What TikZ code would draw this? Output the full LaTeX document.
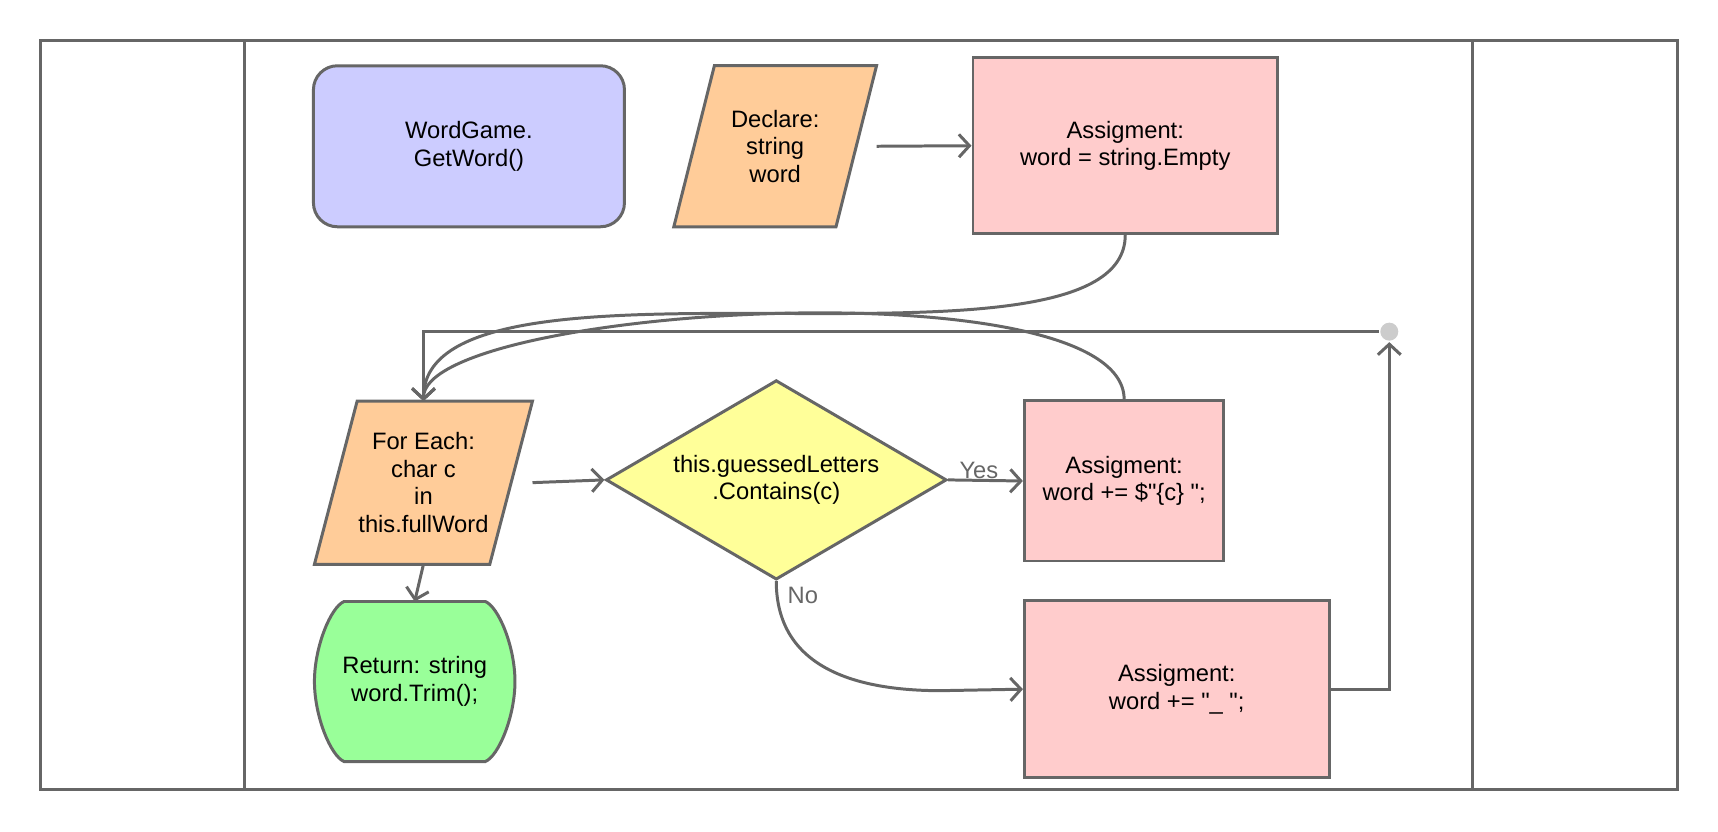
\documentclass[tikz,border=0pt]{standalone}
\usepackage{fontspec}
\setmainfont{Liberation Sans}
\usetikzlibrary{shapes.geometric,arrows.meta,backgrounds}

\def\unitpx{0.021913cm}
\definecolor{linegray}{HTML}{666666}
\definecolor{startblue}{HTML}{CCCCFF}
\definecolor{ioorange}{HTML}{FFCC99}
\definecolor{assignpink}{HTML}{FFCCCC}
\definecolor{decideyellow}{HTML}{FFFF99}
\definecolor{returngreen}{HTML}{99FF99}
\definecolor{dotgray}{HTML}{CCCCCC}

\tikzset{
  every node/.style={font=\fontsize{13.5}{15.7}\selectfont, align=center},
  lane/.style={draw=linegray},
  flow/.style={draw=linegray, ->},
  startbox/.style={draw=linegray, fill=startblue, rounded corners=0.48cm},
  assignbox/.style={draw=linegray, fill=assignpink},
  decision/.style={diamond, draw=linegray, fill=decideyellow, aspect=1.7, inner sep=0pt},
  iotext/.style={inner sep=0pt, outer sep=0pt},
  iobox/.style={draw=linegray, fill=ioorange, line width=1.7pt},
  retbox/.style={draw=linegray, fill=returngreen, line width=1.7pt},
  lbl/.style={text=linegray, inner sep=0pt},
  junction/.style={circle, fill=dotgray, inner sep=0pt, minimum size=0.36cm}
}

\begin{document}
\begin{tikzpicture}[x=\unitpx, y=-\unitpx, line width=1.7pt, >={Straight Barb[length=6pt,width=13pt]}]
    \useasboundingbox (0,0) rectangle (1568,759.3);

    \draw[lane] (37,37) rectangle (1531,721);
    \foreach \x in {223,1343.5} {
      \draw[lane] (\x,37) -- (\x,721);
    }

    \node[startbox, minimum width=6.22cm, minimum height=3.22cm] (start) at (428,133.5) {WordGame.\\GetWord()};
    \node[iotext, minimum width=4.054cm, minimum height=3.221cm] (dec) at (707.5,133.5) {Declare:\\string\\word};
    \node[assignbox, minimum width=6.09cm, minimum height=3.51cm] (a1) at (1027,133) {Assigment:\\word = string.Empty};
    \node[iotext, minimum width=4.361cm, minimum height=3.265cm] (fe) at (386.5,440.5) {For Each:\\char c\\in\\this.fullWord};
    \node[decision, minimum width=6.815cm, minimum height=3.988cm] (dia) at (708.5,438) {this.guessedLetters\\.Contains(c)};
    \node[assignbox, minimum width=3.99cm, minimum height=3.2cm] (a2) at (1026,439) {Assigment:\\word += \$\textquotedbl\{c\} \textquotedbl;};
    \node[assignbox, minimum width=6.09cm, minimum height=3.55cm] (a3) at (1074,629) {Assigment:\\word += \textquotedbl\_ \textquotedbl;};
    \node[iotext, minimum width=4.01cm, minimum height=3.2cm] (ret) at (378.5,622) {Return: string\\word.Trim();};
    \node[junction] (dot) at (1268,302.7) {};

    \begin{scope}[on background layer]
      \foreach \n/\s in {dec/37,fe/39} {
        \path[iobox] ([shift={(\s,0)}]\n.north west) -- (\n.north east)
          -- ([shift={(-\s,0)}]\n.south east) -- (\n.south west) -- cycle;
      }
      \path[retbox] ([shift={(27,0)}]ret.north west) -- ([shift={(-27,0)}]ret.north east)
        .. controls +(12,5) and +(0,-32) .. (ret.east)
        .. controls +(0,32) and +(12,-5) .. ([shift={(-27,0)}]ret.south east)
        -- ([shift={(27,0)}]ret.south west)
        .. controls +(-12,-5) and +(0,32) .. (ret.west)
        .. controls +(0,-32) and +(-12,5) .. ([shift={(27,0)}]ret.north west) -- cycle;
    \end{scope}

    \coordinate (nobend) at ([shift={(150,100)}]dia.south);

    \draw[flow] (dec.east) -- (a1.west);
    \draw[flow] (a1.south) .. controls +(0,147) and +(0,-157) .. (fe.north);
    \draw[flow] (a2.north) .. controls +(0,-124) and +(0,-86) .. (fe.north);
    \draw[flow] (a3.east) -| (dot);
    \draw[flow] (dot) -| (fe.north);
    \draw[flow] (fe.east) -- (dia.west);
    \draw[flow] (dia.east) -- node[lbl, at start, anchor=base west, shift={(9,-1)}] {Yes} (a2.west);
    \draw[flow] (dia.south) node[lbl, anchor=base west, shift={(9,20)}] {No}
      .. controls +(0,75) and +(-85,0) .. (nobend) -- (a3.west);
    \draw[flow] (fe.south) -- (ret.north);
\end{tikzpicture}
\end{document}
